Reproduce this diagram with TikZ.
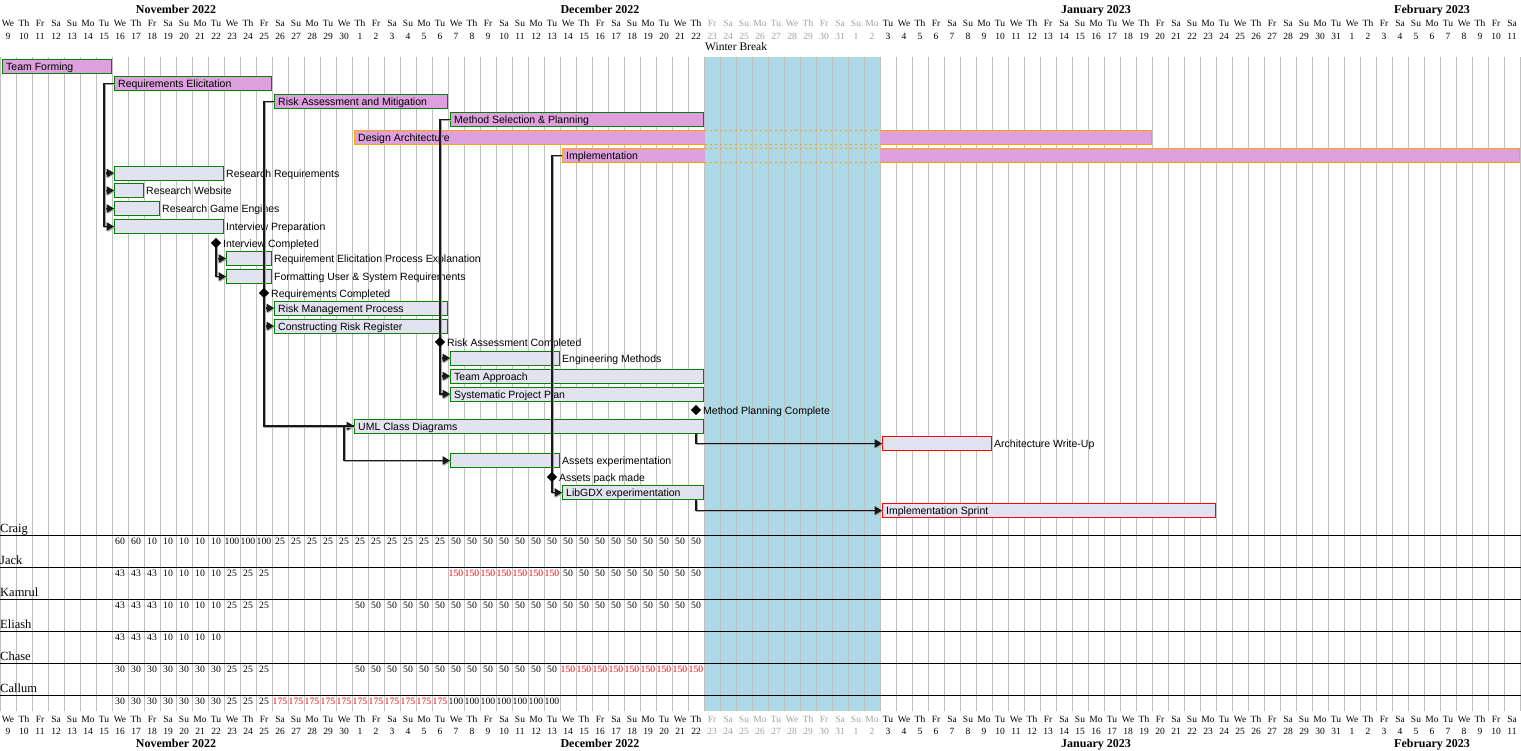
\documentclass[tikz,border=0pt]{standalone}
\usepackage{fontspec}
\setmainfont{Liberation Serif}
\setsansfont{Liberation Sans}
\usetikzlibrary{shapes.geometric,arrows.meta}
\definecolor{plumc}{HTML}{DDA0DD}
\definecolor{lav}{HTML}{E2E2F0}
\definecolor{tgreen}{HTML}{008000}
\definecolor{torange}{HTML}{FFA500}
\definecolor{tred}{HTML}{FF0000}
\definecolor{brkblue}{HTML}{ADD8E6}
\definecolor{gridc}{HTML}{C0C0C0}
\definecolor{brktext}{HTML}{A0A0A0}
\definecolor{lk}{HTML}{181818}
\definecolor{shd}{HTML}{A8A8A8}
\newcommand\dname[1]{\ifcase#1 We\or Th\or Fr\or Sa\or Su\or Mo\or Tu\fi}
\begin{document}
\begin{tikzpicture}[x=1pt,y=-1pt,
  task/.style={draw=tgreen, fill=lav, line width=1pt, anchor=north west, minimum height=14pt, inner sep=0pt, outer sep=0pt},
  ptask/.style={task, fill=plumc},
  rtask/.style={task, draw=tred},
  obar/.style={fill=plumc, draw=none, anchor=north west, minimum height=14pt, inner sep=0pt, outer sep=0pt},
  oedge/.style={draw=torange, line width=1pt},
  brkdash/.style={draw=torange, line width=1pt, dash pattern=on 2pt off 3pt},
  tlab/.style={font=\sffamily\fontsize{10.5}{12}\selectfont, anchor=base west, inner sep=0pt},
  ms/.style={diamond, fill=black, inner sep=0pt, minimum width=10pt, minimum height=10pt},
  dep/.style={draw=lk, line width=1.4pt, -{Triangle[length=7.5pt,width=8.5pt]}, preaction={draw=shd, line width=1.2pt, transform canvas={shift={(1,1)}}}},
  gridl/.style={draw=gridc, line width=1pt},
  resl/.style={draw=black, line width=1pt},
  dl/.style={font=\fontsize{9.5}{10}\selectfont, anchor=base, inner sep=0pt},
  ml/.style={font=\bfseries\fontsize{12}{14}\selectfont, anchor=base, inner sep=0pt},
  nm/.style={font=\fontsize{9.7}{10}\selectfont, anchor=center, inner sep=0pt},
  rn/.style={font=\fontsize{12.5}{14}\selectfont, anchor=base west, inner sep=0pt},
  wb/.style={font=\fontsize{11.5}{13}\selectfont, anchor=base west, inner sep=0pt}
]
\useasboundingbox (0,0) rectangle (1521,750);
\fill[white] (0,0) rectangle (1521,750);
% winter break background
\fill[brkblue] (704,57) rectangle (880,711);
% grid
\foreach \i in {0,...,95} \draw[gridl] ({16*\i},57) -- ({16*\i},711);
% resource separators
\foreach \yy in {535.5,567.5,599.5,631.5,663.5,695.5} \draw[resl] (0,\yy) -- (1521,\yy);
% headers
\foreach \x/\t in {176/November 2022,600/December 2022,1096/January 2023,1432/February 2023} {
  \node[ml] at (\x,13.3) {\t};
  \node[ml] at (\x,747.5) {\t};
}
\foreach \i in {0,...,94} {
  \pgfmathtruncatemacro\m{mod(\i,7)}
  \pgfmathtruncatemacro\d{\i<22 ? \i+9 : (\i<53 ? \i-21 : (\i<84 ? \i-52 : \i-83))}
  \ifnum\i>43 \ifnum\i<55 \def\cc{brktext}\else\def\cc{black}\fi\else\def\cc{black}\fi
  \node[dl, text=\cc] at ({16*\i+8},26.7) {\dname{\m}};
  \node[dl, text=\cc] at ({16*\i+8},39) {\d};
  \node[dl, text=\cc] at ({16*\i+8},722.3) {\dname{\m}};
  \node[dl, text=\cc] at ({16*\i+8},734.3) {\d};
}
\node[wb] (wbl) at (705,50.7) {Winter Break};
% resources
\foreach \k/\nm in {0/Craig,1/Jack,2/Kamrul,3/Eliash,4/Chase,5/Callum}
  \node[rn] at (0,{532.3+32*\k}) {\nm};
\foreach \k/\a/\b/\v/\c in {0/7/8/60/black,0/9/13/10/black,0/14/16/100/black,0/17/27/25/black,0/28/43/50/black,
 1/7/9/43/black,1/10/13/10/black,1/14/16/25/black,1/28/34/150/tred,1/35/43/50/black,
 2/7/9/43/black,2/10/13/10/black,2/14/16/25/black,2/22/43/50/black,
 3/7/9/43/black,3/10/13/10/black,
 4/7/13/30/black,4/14/16/25/black,4/22/34/50/black,4/35/43/150/tred,
 5/7/13/30/black,5/14/16/25/black,5/17/27/175/tred,5/28/34/100/black}
{ \foreach \i in {\a,...,\b} { \node[nm, text=\c] at ({16*\i+8},{541.7+32*\k}) {\v}; } }
% parent tasks
\node[ptask, minimum width=109pt] (tf) at (2,59) {};
\node[tlab] at (6,70) {Team Forming};
\node[ptask, minimum width=157pt] (re) at (114,76.5) {};
\node[tlab] at (118,87.5) {Requirements Elicitation};
\node[ptask, minimum width=173pt] (ra) at (274,94.5) {};
\node[tlab] at (278,105.5) {Risk Assessment and Mitigation};
\node[ptask, minimum width=253pt] (ms) at (450,112.5) {};
\node[tlab] at (454,123.5) {Method Selection \& Planning};
% design architecture (split by winter break)
\node[obar, minimum width=351pt] (da) at (354,130.5) {};
\node[obar, minimum width=271pt] (da2) at (880,130.5) {};
\draw[oedge] (da.north east) -- (da.north west) -- (da.south west) -- (da.south east);
\draw[oedge] (da2.north west) -- (da2.north east) -- (da2.south east) -- (da2.south west);
\draw[brkdash] (da.north east) -- (da2.north west);
\draw[brkdash] (da.south east) -- (da2.south west);
\node[tlab] at (358,141.5) {Design Architecture};
% implementation (split by winter break)
\node[obar, minimum width=143pt] (impl) at (562,148.5) {};
\node[obar, minimum width=639pt] (impl2) at (880,148.5) {};
\draw[oedge] (impl.north east) -- (impl.north west) -- (impl.south west) -- (impl.south east);
\draw[oedge] (impl2.north west) -- (impl2.north east) -- (impl2.south east) -- (impl2.south west);
\draw[brkdash] (impl.north east) -- (impl2.north west);
\draw[brkdash] (impl.south east) -- (impl2.south west);
\node[tlab] at (566,159.5) {Implementation};
% subtasks
\node[task, minimum width=109pt] (rr) at (114,166) {};
\node[tlab] at (226,177) {Research Requirements};
\node[task, minimum width=29pt] (rw) at (114,183.5) {};
\node[tlab] at (146,194.5) {Research Website};
\node[task, minimum width=45pt] (rge) at (114,201.5) {};
\node[tlab] at (162,212.5) {Research Game Engines};
\node[task, minimum width=109pt] (ip) at (114,219.5) {};
\node[tlab] at (226,230.5) {Interview Preparation};
\node[ms] (ic) at (216,243) {};
\node[tlab] at (223,247) {Interview Completed};
\node[task, minimum width=45pt] (repe) at (226,251.5) {};
\node[tlab] at (274,262.5) {Requirement Elicitation Process Explanation};
\node[task, minimum width=45pt] (fusr) at (226,269.5) {};
\node[tlab] at (274,280.5) {Formatting User \& System Requirements};
\node[ms] (rc) at (264,293) {};
\node[tlab] at (271,297) {Requirements Completed};
\node[task, minimum width=173pt] (rmp) at (274,301) {};
\node[tlab] at (278,312) {Risk Management Process};
\node[task, minimum width=173pt] (crr) at (274,319) {};
\node[tlab] at (278,330) {Constructing Risk Register};
\node[ms] (rac) at (440,342) {};
\node[tlab] at (447,346) {Risk Assessment Completed};
\node[task, minimum width=109pt] (em) at (450,351) {};
\node[tlab] at (562,362) {Engineering Methods};
\node[task, minimum width=253pt] (ta) at (450,369) {};
\node[tlab] at (454,380) {Team Approach};
\node[task, minimum width=253pt] (spp) at (450,387) {};
\node[tlab] at (454,398) {Systematic Project Plan};
\node[ms] (mpc) at (696,410) {};
\node[tlab] at (703,414) {Method Planning Complete};
\node[task, minimum width=349pt] (uml) at (354,419) {};
\node[tlab] at (358,430) {UML Class Diagrams};
\node[rtask, minimum width=109pt] (awu) at (882,436.5) {};
\node[tlab] at (994,447.5) {Architecture Write-Up};
\node[task, minimum width=109pt] (ae) at (450,453.5) {};
\node[tlab] at (562,464.5) {Assets experimentation};
\node[ms] (apm) at (552,477) {};
\node[tlab] at (559,481) {Assets pack made};
\node[task, minimum width=141pt] (lib) at (562,485.5) {};
\node[tlab] at (566,496.5) {LibGDX experimentation};
\node[rtask, minimum width=333pt] (isp) at (882,503.5) {};
\node[tlab] at (886,514.5) {Implementation Sprint};
% connectors
\foreach \t in {rr,rw,rge,ip} \draw[dep] (re.west) -- ++(-10,0) |- (\t.west);
\foreach \t in {repe,fusr} \draw[dep] (ic.center) |- (\t.west);
\foreach \t in {rmp,crr,uml} \draw[dep] (ra.west) -- ++(-10,0) |- (\t.west);
\foreach \t in {em,ta,spp} \draw[dep] (ms.west) -- ++(-10,0) |- (\t.west);
\draw[dep] (uml.west) -- ++(-10,0) |- (ae.west);
\draw[dep] (impl.west) -- ++(-10,0) |- (lib.west);
\draw[dep] ([xshift=-7pt]uml.south east) |- (awu.west);
\draw[dep] ([xshift=-7pt]lib.south east) |- (isp.west);
% milestones on top
\foreach \mm in {ic,rc,rac,mpc,apm} \node[ms] at (\mm.center) {};
\end{tikzpicture}
\end{document}
